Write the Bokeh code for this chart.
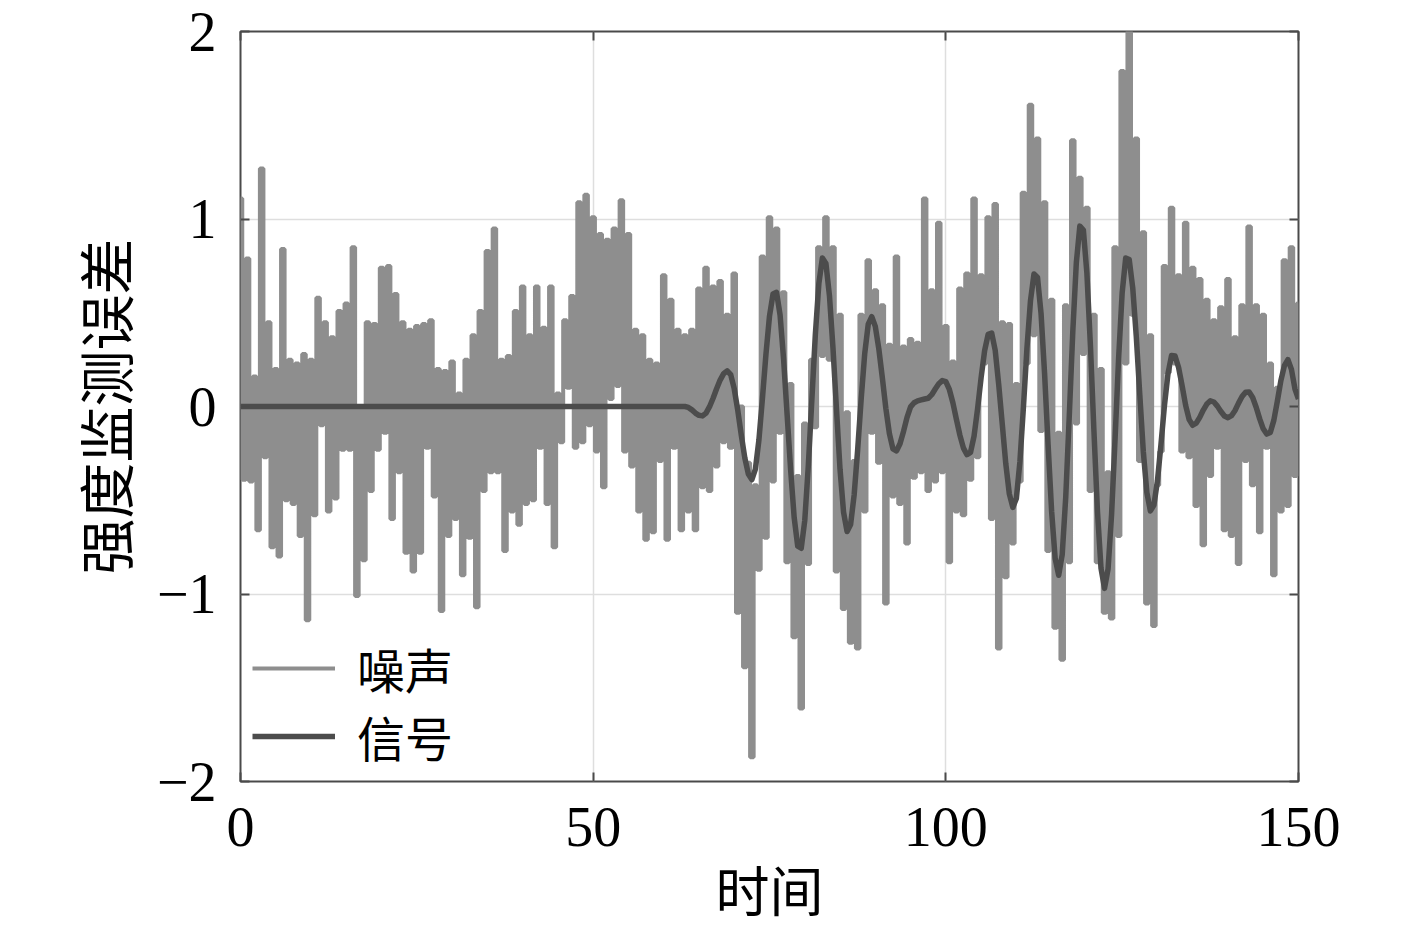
import numpy as np
from bokeh.plotting import figure
from bokeh.models import Range1d, FixedTicker, LinearAxis, Legend, LegendItem
from bokeh.embed import file_html
from bokeh.resources import INLINE

# ---- data ----
x_ticks = [0, 50, 100, 150]
y_ticks = [-2, -1, 0, 1, 2]
y_tick_labels = {-2: "\u22122", -1: "\u22121", 0: "0", 1: "1", 2: "2"}
x_label = "时间"
y_label = "强度监测误差"
series_names = ["噪声", "信号"]

noise_step = 0.5
noise_values = [
    1.11, -0.39, 0.79, -0.40, 0.16, -0.66, 1.27, -0.27, 0.45, -0.75,
    0.20, -0.80, 0.84, -0.50, 0.25, -0.52, 0.23, -0.69, 0.28, -1.14,
    0.25, -0.58, 0.58, -0.10, 0.45, -0.56, 0.37, -0.49, 0.51, -0.23,
    0.55, -0.23, 0.85, -1.01, 0.00, -0.82, 0.45, -0.45, 0.44, -0.23,
    0.74, -0.14, 0.75, -0.60, 0.60, -0.35, 0.45, -0.78, 0.41, -0.88,
    0.43, -0.78, 0.44, -0.22, 0.46, -0.48, 0.20, -1.09, 0.19, -0.69,
    0.24, -0.60, 0.07, -0.90, 0.25, -0.70, 0.38, -1.07, 0.51, -0.45,
    0.83, -0.35, 0.95, -0.35, 0.25, -0.77, 0.27, -0.56, 0.51, -0.63,
    0.64, -0.52, 0.38, -0.50, 0.64, -0.22, 0.42, -0.52, 0.64, -0.75,
    0.07, -0.19, 0.46, 0.10, 0.59, -0.22, 1.09, -0.19, 1.13, -0.10,
    1.01, -0.24, 0.92, -0.43, 0.89, 0.04, 0.95, 0.11, 1.10, -0.24,
    0.92, -0.32, 0.41, -0.56, 0.38, -0.71, 0.25, -0.67, 0.23, -0.29,
    0.70, -0.71, 0.57, -0.22, 0.41, -0.66, 0.38, -0.56, 0.41, -0.66,
    0.63, -0.43, 0.74, -0.45, 0.64, -0.32, 0.67, -0.19, 0.49, -0.22,
    0.71, -1.10, 0.00, -1.39, -0.30, -1.87, -0.42, -0.87, 0.80, -0.70,
    1.01, -0.40, 0.95, -0.14, 0.61, -0.83, 0.12, -1.23, -0.37, -1.61,
    -0.09, -0.84, 0.25, -0.11, 0.85, 0.27, 1.01, 0.25, 0.85, -0.88,
    0.49, -1.08, -0.03, -1.26, -0.29, -1.29, 0.49, -0.56, 0.78, -0.14,
    0.62, -0.30, 0.54, -1.05, 0.33, -0.48, 0.80, -0.52, 0.32, -0.73,
    0.36, -0.38, 0.34, -0.35, 1.11, -0.45, 0.62, -0.40, 0.98, -0.35,
    0.43, -0.83, 0.24, -0.56, 0.63, -0.58, 0.71, -0.39, 1.11, -0.27,
    0.70, 0.23, 1.01, -0.60, 1.08, -1.29, 0.45, -0.91, 0.44, -0.73,
    0.12, -0.40, 1.14, 0.23, 1.61, 0.38, 1.43, -0.13, 1.09, -0.77,
    0.57, -1.18, -0.14, -1.35, 0.54, -0.83, 1.42, -0.09, 1.22, 0.28,
    1.06, -0.45, 0.49, -0.83, 0.20, -1.10, -0.35, -1.13, 0.85, -0.69,
    1.79, 0.23, 2.00, 0.49, 1.43, -0.29, 0.93, -1.05, 0.38, -1.17,
    -0.42, -0.24, 0.75, 0.18, 1.06, 0.23, 0.70, -0.24, 0.98, -0.27,
    0.74, -0.53, 0.68, -0.74, 0.57, -0.37, 0.46, -0.22, 0.53, -0.66,
    0.68, -0.69, 0.37, -0.84, 0.54, -0.29, 0.96, -0.42, 0.54, -0.67,
    0.49, -0.22, 0.23, -0.90, 0.10, -0.56, 0.78, -0.53, 0.85, -0.37,
    0.55,
]

signal_flat_start = 0.0
signal_onset = 63.0
signal_step = 0.5
signal_values = [
    0.000, -0.005, -0.018, -0.035, -0.047, -0.050, -0.035, -0.001, 0.044, 0.095,
    0.141, 0.175, 0.190, 0.170, 0.095, -0.020, -0.153, -0.274, -0.360, -0.390,
    -0.334, -0.178, 0.044, 0.280, 0.482, 0.600, 0.609, 0.488, 0.252, -0.044,
    -0.339, -0.593, -0.745, -0.756, -0.608, -0.318, 0.032, 0.384, 0.657, 0.792,
    0.763, 0.591, 0.312, -0.017, -0.335, -0.564, -0.667, -0.629, -0.472, -0.231,
    0.041, 0.282, 0.439, 0.479, 0.427, 0.307, 0.153, -0.011, -0.145, -0.226,
    -0.237, -0.199, -0.133, -0.058, -0.002, 0.020, 0.030, 0.035, 0.040, 0.044,
    0.063, 0.093, 0.121, 0.138, 0.133, 0.091, 0.020, -0.069, -0.154, -0.222,
    -0.257, -0.245, -0.158, -0.013, 0.153, 0.298, 0.385, 0.392, 0.300, 0.116,
    -0.093, -0.305, -0.466, -0.538, -0.490, -0.296, -0.005, 0.311, 0.564, 0.707,
    0.688, 0.496, 0.176, -0.205, -0.560, -0.810, -0.900, -0.790, -0.483, -0.052,
    0.399, 0.766, 0.962, 0.941, 0.710, 0.325, -0.133, -0.560, -0.863, -0.970,
    -0.867, -0.575, -0.167, 0.260, 0.607, 0.792, 0.784, 0.632, 0.374, 0.062,
    -0.241, -0.459, -0.557, -0.526, -0.397, -0.203, 0.007, 0.176, 0.272, 0.269,
    0.208, 0.111, 0.006, -0.070, -0.100, -0.089, -0.058, -0.019, 0.013, 0.030,
    0.024, 0.002, -0.027, -0.051, -0.060, -0.049, -0.021, 0.018, 0.053, 0.076,
    0.077, 0.048, -0.004, -0.066, -0.119, -0.147, -0.139, -0.074, 0.028, 0.138,
    0.218, 0.250, 0.198, 0.093, 0.040,
]

noise_t = np.arange(len(noise_values)) * noise_step
sig_t = [signal_flat_start] + list(signal_onset + np.arange(len(signal_values)) * signal_step)
sig_v = [0.0] + signal_values

# ---- styles ----
NOISE_COLOR = "#8e8e8e"
SIGNAL_COLOR = "#4c4c4c"
FRAME_COLOR = "#4a4a4a"
GRID_COLOR = "#dedede"
SERIF = "Liberation Serif"
CJK = "Noto Sans CJK SC"

p = figure(
    frame_width=1058, frame_height=750,
    min_border_left=240, min_border_top=31, min_border_right=110, min_border_bottom=140,
    x_range=Range1d(0, 150), y_range=Range1d(-2, 2),
    output_backend="svg", toolbar_location=None,
)
p.background_fill_color = "white"
p.border_fill_color = "white"
p.outline_line_color = FRAME_COLOR
p.outline_line_width = 2

r_noise = p.step(noise_t, noise_values, mode="center", line_color=NOISE_COLOR, line_width=4)
r_sig = p.line(sig_t, sig_v, line_color=SIGNAL_COLOR, line_width=5.5, line_join="round")

for ax in p.xaxis:
    ax.ticker = FixedTicker(ticks=x_ticks)
    ax.axis_label = x_label
    ax.axis_label_text_font_size = "54px"
for ax in p.yaxis:
    ax.ticker = FixedTicker(ticks=y_ticks)
    ax.major_label_overrides = y_tick_labels
    ax.axis_label = y_label
    ax.axis_label_text_font_size = "56px"

for ax in list(p.xaxis) + list(p.yaxis):
    ax.axis_line_color = None
    ax.major_tick_in = 9
    ax.major_tick_out = 0
    ax.major_tick_line_color = FRAME_COLOR
    ax.major_tick_line_width = 2
    ax.minor_tick_line_color = None
    ax.major_label_text_font = SERIF
    ax.major_label_text_font_size = "56px"
    ax.major_label_text_color = "black"
    ax.axis_label_text_font = CJK
    ax.axis_label_text_font_style = "normal"
    ax.axis_label_text_color = "black"

p.xaxis.major_label_standoff = 26
p.xaxis.axis_label_standoff = 0
p.yaxis.major_label_standoff = 24
p.yaxis.axis_label_standoff = 10

# mirrored inward ticks on top and right (no labels)
top_ax = LinearAxis(ticker=FixedTicker(ticks=x_ticks), axis_line_color=None,
                    major_tick_in=9, major_tick_out=0, major_tick_line_color=FRAME_COLOR,
                    major_tick_line_width=2, minor_tick_line_color=None,
                    major_label_overrides={t: "" for t in x_ticks},
                    major_label_text_font_size="10px", major_label_standoff=0)
right_ax = LinearAxis(ticker=FixedTicker(ticks=y_ticks), axis_line_color=None,
                      major_tick_in=9, major_tick_out=0, major_tick_line_color=FRAME_COLOR,
                      major_tick_line_width=2, minor_tick_line_color=None,
                      major_label_overrides={t: "" for t in y_ticks},
                      major_label_text_font_size="10px", major_label_standoff=0)
p.add_layout(top_ax, "above")
p.add_layout(right_ax, "right")

p.xgrid.ticker = FixedTicker(ticks=[50, 100])
p.ygrid.ticker = FixedTicker(ticks=[-1, 0, 1])
p.xgrid.grid_line_color = GRID_COLOR
p.ygrid.grid_line_color = GRID_COLOR
p.xgrid.grid_line_width = 1.5
p.ygrid.grid_line_width = 1.5

legend_style = dict(
    label_text_font=CJK,
    label_text_font_size="48px",
    label_text_line_height=1.0,
    label_text_color="black",
    glyph_width=83, glyph_height=48, label_height=48,
    label_standoff=22, spacing=0, padding=2, margin=0,
    border_line_color=None, background_fill_alpha=0,
)
legend_noise = Legend(items=[LegendItem(label=series_names[0], renderers=[r_noise])],
                      location=(12, 78), **legend_style)
legend_signal = Legend(items=[LegendItem(label=series_names[1], renderers=[r_sig])],
                       location=(12, 10), **legend_style)
p.add_layout(legend_noise)
p.add_layout(legend_signal)

open("out.html", "w").write(file_html(p, INLINE))
